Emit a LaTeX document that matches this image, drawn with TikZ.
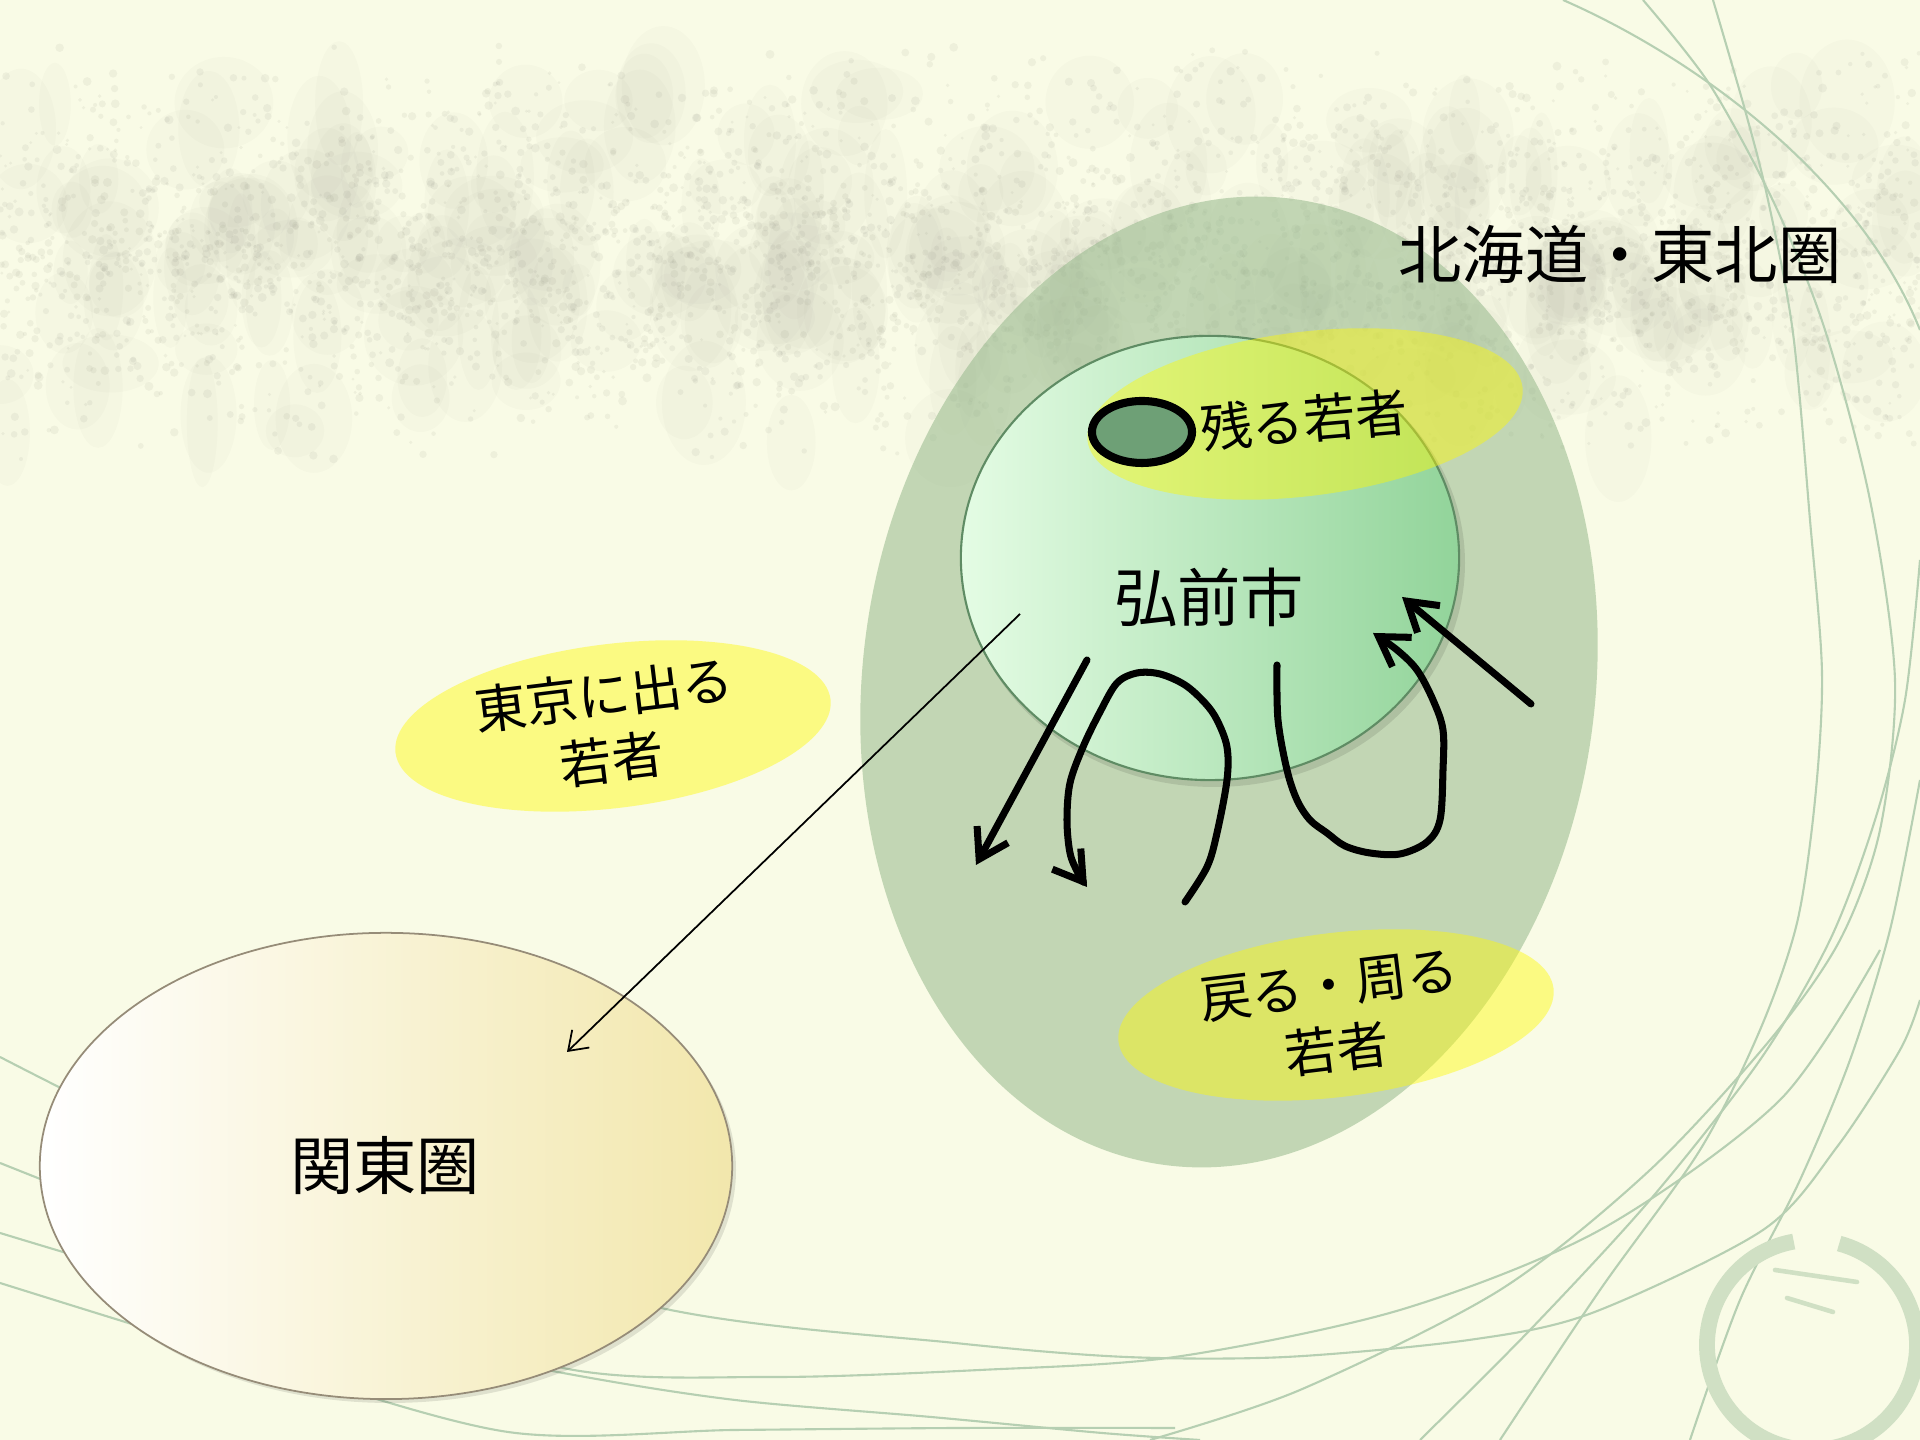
\documentclass[tikz,border=0pt]{standalone}
\usepackage{fontspec}
\newfontfamily\jp{Noto Sans CJK JP}
\usetikzlibrary{shapes.geometric,arrows.meta}
\definecolor{bg}{RGB}{249,251,230}
\definecolor{texc}{RGB}{130,130,118}
\definecolor{grass}{RGB}{182,207,178}
\definecolor{ringc}{RGB}{208,224,196}
\definecolor{regiongreen}{RGB}{150,185,140}
\definecolor{ylw}{RGB}{255,250,0}
\definecolor{darkblob}{RGB}{110,160,118}
\definecolor{hiroL}{RGB}{228,252,228}
\definecolor{hiroM}{RGB}{190,236,196}
\definecolor{hiroR}{RGB}{146,212,154}
\definecolor{hiroEdge}{RGB}{95,140,100}
\definecolor{kantoR}{RGB}{242,231,172}
\definecolor{kantoM}{RGB}{253,252,214}
\definecolor{kantoEdge}{RGB}{150,140,120}
\tikzset{
  region/.style={ellipse, inner sep=0pt, fill=regiongreen, fill opacity=0.55},
  yellowblob/.style={ellipse, inner sep=0pt, minimum width=4.38cm, minimum height=1.64cm,
    fill=ylw, fill opacity=0.43, rotate=7},
  bigtext/.style={font=\jp\fontsize{18pt}{22pt}\selectfont, text=black, inner sep=0pt},
  smalltext/.style={font=\jp\fontsize{14.8pt}{18.5pt}\selectfont, align=center, text=black, inner sep=0pt},
  pen/.style={line width=2pt, line cap=round, line join=round, -{Straight Barb[length=8pt,width=10pt]}},
  thinarrow/.style={line width=0.5pt, -{Straight Barb[length=5pt,width=7pt]}},
  grassline/.style={draw=grass, line width=0.6pt},
}
\begin{document}
\begin{tikzpicture}[x=0.01cm,y=0.01cm]
\useasboundingbox (0,0) rectangle (1920,1440);
\fill[bg] (0,0) rectangle (1920,1440);
\begin{scope}[shift={(0,1440)}, yscale=-1]
% paper texture band
\pgfmathsetseed{12345}
\foreach \i in {1,...,320}{%
  \pgfmathsetmacro{\px}{1920*rnd}%
  \pgfmathsetmacro{\py}{60+200*(rnd+rnd)}%
  \pgfmathsetmacro{\rx}{15+35*rnd}%
  \pgfmathsetmacro{\ry}{25+40*rnd}%
  \fill[texc, opacity=0.03] (\px,\py) ellipse[x radius=\rx, y radius=\ry];
}
\foreach \i in {1,...,3500}{%
  \pgfmathsetmacro{\px}{1920*rnd}%
  \pgfmathsetmacro{\py}{40+215*(rnd+rnd)}%
  \pgfmathsetmacro{\rr}{1.5+3*rnd}%
  \fill[texc, opacity=0.09] (\px,\py) circle[radius=\rr];
}
% grass lines
\draw[grassline] (1563,0) .. controls (1700,60) and (1860,180) .. (1920,330);
\draw[grassline] plot[smooth] coordinates {(1643,0) (1710,85) (1775,205) (1825,330) (1870,500) (1895,680) (1880,830) (1840,940) (1770,1040) (1650,1170) (1500,1290) (1300,1390) (1150,1440)};
\draw[grassline] plot[smooth] coordinates {(1713,0) (1745,110) (1768,200) (1793,333) (1810,520) (1822,673) (1815,800) (1797,923) (1760,1030) (1700,1150) (1600,1290) (1500,1440)};
\draw[grassline] plot[smooth] coordinates {(1920,560) (1905,700) (1875,820) (1830,940) (1760,1060) (1650,1200) (1530,1330) (1420,1440)};
\draw[grassline] plot[smooth] coordinates {(1920,780) (1890,930) (1850,1060) (1800,1180) (1740,1300) (1690,1440)};
\draw[grassline] plot[smooth] coordinates {(0,1057) (300,1200) (661,1308) (955,1343) (1126,1357) (1286,1357) (1469,1340) (1592,1313) (1763,1230) (1837,1147) (1900,1050) (1920,1000)};
\draw[grassline] plot[smooth] coordinates {(0,1163) (300,1280) (563,1368) (771,1377) (980,1370) (1175,1357) (1400,1310) (1600,1230) (1780,1100) (1880,950)};
\draw[grassline] plot[smooth] coordinates {(0,1233) (300,1320) (563,1373) (735,1400) (931,1417) (1102,1433) (1200,1440)};
\draw[grassline] plot[smooth] coordinates {(0,1283) (250,1360) (508,1432) (735,1430) (960,1428) (1175,1428)};
% brush ring
\draw[ringc, line width=4.5pt] (1812,1345) ++(285:105) arc[start angle=285, end angle=620, radius=105];
\draw[ringc, line width=1.3pt, line cap=round] (1775,1270) -- (1857,1282);
\draw[ringc, line width=1.3pt, line cap=round] (1787,1298) -- (1833,1312);

% Hokkaido / Tohoku region
\node[region, minimum width=7.32cm, minimum height=9.74cm, rotate=-7.6] (tohoku) at (1229,682) {};
\node[bigtext] (tohokulabel) at (1620,254) {北海道・東北圏};

% Hirosaki
\fill[black, opacity=0.10] (1214,563) ellipse[x radius=251, y radius=224];
\node[ellipse, inner sep=0pt, minimum width=4.98cm, minimum height=4.44cm, draw=hiroEdge, line width=0.6pt,
      left color=hiroL, middle color=hiroM, right color=hiroR] (hirosaki) at (1210,558) {};
\node[bigtext] (hirosakilabel) at (1209,597) {弘前市};

% stay
\node[yellowblob] (nokoru) at (1305,414) {};
\node[ellipse, inner sep=0pt, minimum width=1.0cm, minimum height=0.62cm, draw=black, line width=2.3pt,
      fill=darkblob] (stay) at (1142,432) {};
\node[smalltext, rotate=5] (nokorulabel) at (1304,420) {残る若者};

% Tokyo
\node[yellowblob] (tokyo) at (613,726) {};
\node[smalltext, rotate=7] (tokyolabel) at (608,727) {東京に出る\\若者};

% return
\node[yellowblob] (modoru) at (1336,1015) {};
\node[smalltext, rotate=7] (modorulabel) at (1333,1018) {戻る・周る\\若者};

% Kanto
\fill[black, opacity=0.10] (390,1170) ellipse[x radius=346, y radius=233];
\node[ellipse, inner sep=0pt, minimum width=6.92cm, minimum height=4.66cm, draw=kantoEdge, line width=0.5pt,
      left color=white, middle color=kantoM, right color=kantoR] (kanto) at (386,1166) {};
\node[bigtext] (kantolabel) at (385,1166) {関東圏};

% thin arrow
\coordinate (leave) at (1020,614);
\coordinate (arrive) at (567,1052);
\draw[thinarrow] (leave) -- (arrive);

% hand-drawn arrows
\coordinate (o1s) at (1087,660);
\coordinate (o1e) at (976,865);
\draw[pen] (o1s) -- (o1e);

\coordinate (l1s) at (1185,902);
\coordinate (l1e) at (1087,887);
\draw[pen] plot[smooth, tension=0.55] coordinates {(l1s) (1207,867) (1217,833) (1227,780) (1227,747) (1217,720) (1205,703) (1185,685) (1160,674) (1137,673) (1117,683) (1100,712) (1083,747) (1070,783) (1067,820) (1070,853) (1078,873) (l1e)};

\coordinate (r1s) at (1277,665);
\coordinate (r1e) at (1373,633);
\draw[pen] plot[smooth, tension=0.55] coordinates {(r1s) (1278,720) (1287,770) (1297,800) (1310,820) (1327,833) (1345,846) (1370,853) (1400,854) (1427,842) (1440,820) (1443,770) (1443,730) (1433,700) (1417,670) (1397,650) (r1e)};

\coordinate (i1s) at (1531,704);
\coordinate (i1e) at (1402,597);
\draw[pen] (i1s) -- (i1e);
\end{scope}
\end{tikzpicture}
\end{document}
